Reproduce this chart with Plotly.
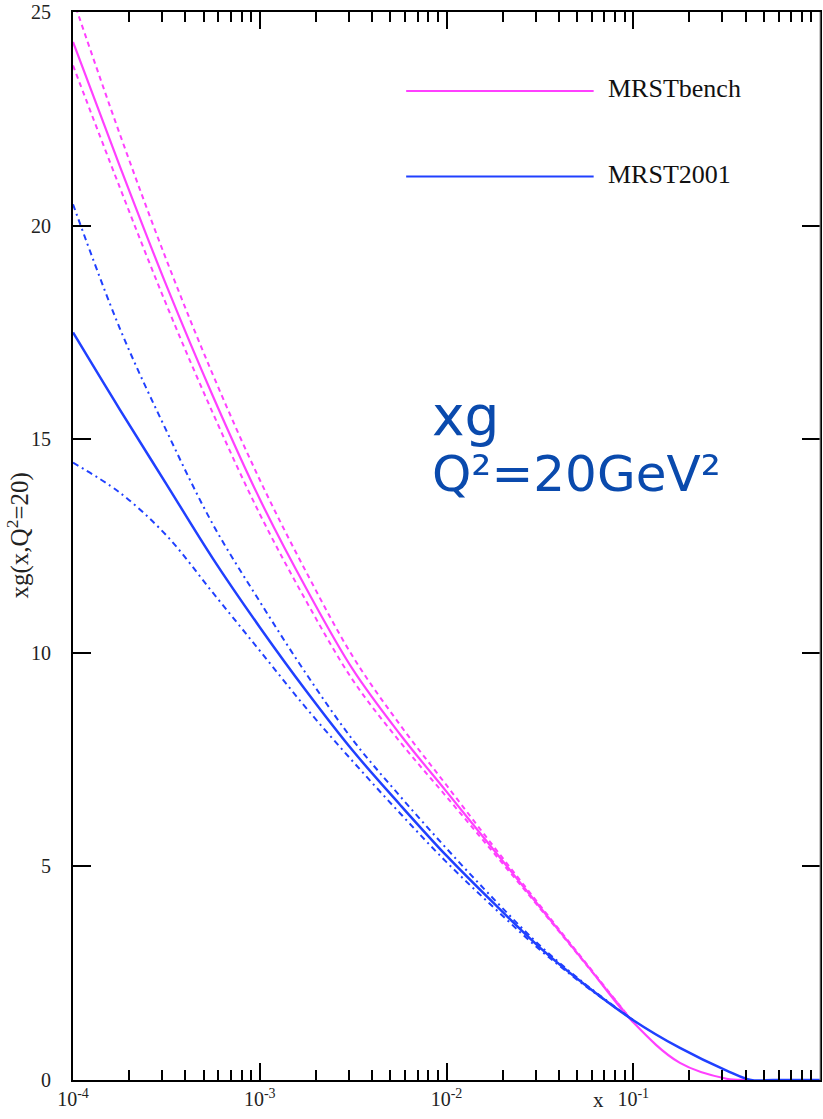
import plotly.graph_objects as go

# log10(x) grid where values were read
logx_main = [-4, -3.75, -3.5, -3.25, -3.0, -2.75, -2.5, -2.25, -2.0, -1.75, -1.5, -1.25, -1.0, -0.75, -0.5, -0.4, -0.36]
logx_blue = [-4, -3.75, -3.5, -3.25, -3.0, -2.75, -2.5, -2.25, -2.0, -1.75, -1.5, -1.25, -1.0, -0.75, -0.5, -0.37, -0.25, 0.0]
logx_band = [-4, -3.75, -3.5, -3.25, -3.0, -2.75, -2.5, -2.25, -2.0, -1.75, -1.5, -1.25, -1.0]

mrstbench = [24.3, 21.4, 18.6, 16.0, 13.6, 11.5, 9.6, 8.1, 6.75, 5.4, 4.05, 2.7, 1.35, 0.4, 0.03, 0.0, 0.0]
mrstbench_up = [25.3, 22.15, 19.2, 16.5, 14.05, 11.88, 9.9, 8.32, 6.9, 5.48, 4.09, 2.72, 1.35]
mrstbench_lo = [23.75, 20.9, 18.15, 15.6, 13.25, 11.2, 9.35, 7.92, 6.63, 5.33, 4.02, 2.69, 1.35]

mrst2001 = [17.5, 15.7, 13.95, 12.2, 10.6, 9.1, 7.7, 6.45, 5.25, 4.15, 3.1, 2.2, 1.4, 0.75, 0.22, 0.0, 0.0, 0.0]
mrst2001_up = [20.5, 17.6, 15.2, 13.0, 11.2, 9.5, 7.95, 6.65, 5.42, 4.25, 3.15, 2.22, 1.4]
mrst2001_lo = [14.45, 13.75, 12.75, 11.4, 10.05, 8.7, 7.45, 6.25, 5.1, 4.05, 3.05, 2.18, 1.4]

series_names = ["MRSTbench", "MRST2001"]
y_ticks = [0, 5, 10, 15, 20, 25]
x_tickvals = [1e-4, 1e-3, 1e-2, 1e-1]
x_ticktext = ["10<sup>-4</sup>", "10<sup>-3</sup>", "10<sup>-2</sup>", "10<sup>-1</sup>"]
x_minor = [m * 10 ** d for d in range(-4, 0) for m in range(2, 10)]

MAG = "#ff40ff"
BLU = "#2040ff"


def xs(lg):
    return [10 ** v for v in lg]


fig = go.Figure()
fig.add_trace(go.Scatter(x=xs(logx_band), y=mrstbench_up, mode="lines",
                         line=dict(color=MAG, width=2, dash="5px,4px", shape="spline")))
fig.add_trace(go.Scatter(x=xs(logx_band), y=mrstbench_lo, mode="lines",
                         line=dict(color=MAG, width=2, dash="5px,4px", shape="spline")))
fig.add_trace(go.Scatter(x=xs(logx_main), y=mrstbench, mode="lines", name=series_names[0],
                         line=dict(color=MAG, width=2.2, shape="spline")))
fig.add_trace(go.Scatter(x=xs(logx_band), y=mrst2001_up, mode="lines",
                         line=dict(color=BLU, width=2, dash="6px,4px,2px,4px", shape="spline")))
fig.add_trace(go.Scatter(x=xs(logx_band), y=mrst2001_lo, mode="lines",
                         line=dict(color=BLU, width=2, dash="6px,4px,2px,4px", shape="spline")))
fig.add_trace(go.Scatter(x=xs(logx_blue), y=mrst2001, mode="lines", name=series_names[1],
                         line=dict(color=BLU, width=2.5, shape="spline")))
# invisible carrier traces for the extra tick axes
for ax in ["x2", "x3", "x4"]:
    fig.add_trace(go.Scatter(x=xs(logx_blue), y=mrst2001, mode="lines", xaxis=ax,
                             line=dict(color="rgba(0,0,0,0)", width=0), hoverinfo="skip"))

tickfont = dict(family="Liberation Serif", size=20, color="#222")

common = dict(type="log", range=[-4, 0], showgrid=False, zeroline=False, linecolor="black",
              linewidth=2, ticks="inside", tickwidth=2, tickcolor="black", tickmode="array",
              mirror=False)

fig.update_layout(
    xaxis=dict(**common, showline=True, ticklen=17, tickvals=x_tickvals, ticktext=x_ticktext,
               tickfont=tickfont),
    xaxis2=dict(**common, overlaying="x", matches="x", anchor="y", side="bottom", showline=False,
                ticklen=10, tickvals=x_minor, showticklabels=False),
    xaxis3=dict(**common, overlaying="x", matches="x", anchor="y", side="top", showline=True,
                ticklen=17, tickvals=x_tickvals, showticklabels=False),
    xaxis4=dict(**common, overlaying="x", matches="x", anchor="y", side="top", showline=False,
                ticklen=10, tickvals=x_minor, showticklabels=False),
    yaxis=dict(range=[0, 25], showgrid=False, zeroline=False,
               showline=True, linecolor="black", linewidth=2, mirror="ticks",
               ticks="inside", ticklen=18, tickwidth=2, tickcolor="black",
               tickmode="array", tickvals=y_ticks, ticktext=[str(v) for v in y_ticks],
               tickfont=tickfont, ticklabelstandoff=16),
)

# right frame line (thin gray)
fig.add_shape(type="line", xref="paper", yref="paper", x0=1, x1=1, y0=0, y1=1,
              line=dict(color="#999999", width=1))

# legend drawn as line samples + labels
leg_y = [0.926, 0.846]
leg_col = [MAG, BLU]
for name, yy, col in zip(series_names, leg_y, leg_col):
    fig.add_shape(type="line", xref="paper", yref="paper", x0=0.446, x1=0.697, y0=yy, y1=yy,
                  line=dict(color=col, width=2))
    fig.add_annotation(xref="paper", yref="paper", x=0.714, y=yy + 0.002, text=name, showarrow=False,
                       xanchor="left", yanchor="middle",
                       font=dict(family="Liberation Serif", size=26, color="#111"))

# big blue labels
fig.add_annotation(xref="paper", yref="paper", x=0.478, y=(1080 - 416) / 1068, text="xg",
                   showarrow=False, xanchor="left", yanchor="middle",
                   font=dict(family="DejaVu Sans", size=55, color="#0a4aad"))
fig.add_annotation(xref="paper", yref="paper", x=0.478, y=(1080 - 474) / 1068, text="Q²=20GeV²",
                   showarrow=False, xanchor="left", yanchor="middle",
                   font=dict(family="DejaVu Sans", size=50, color="#0a4aad"))

# axis titles
fig.add_annotation(xref="paper", yref="paper", x=-0.0734, y=0.51, text="xg(x,Q<sup>2</sup>=20)",
                   textangle=-90, showarrow=False, xanchor="center", yanchor="middle",
                   font=dict(family="Liberation Serif", size=25, color="#222"))
fig.add_annotation(xref="paper", yref="paper", x=0.703, y=-0.019, text="x",
                   showarrow=False, xanchor="center", yanchor="middle",
                   font=dict(family="Liberation Serif", size=21, color="#222"))

fig.update_layout(width=823, height=1119, margin=dict(l=73, r=1, t=12, b=39),
                  paper_bgcolor="white", plot_bgcolor="white", showlegend=False)

fig.write_html("out.html")
